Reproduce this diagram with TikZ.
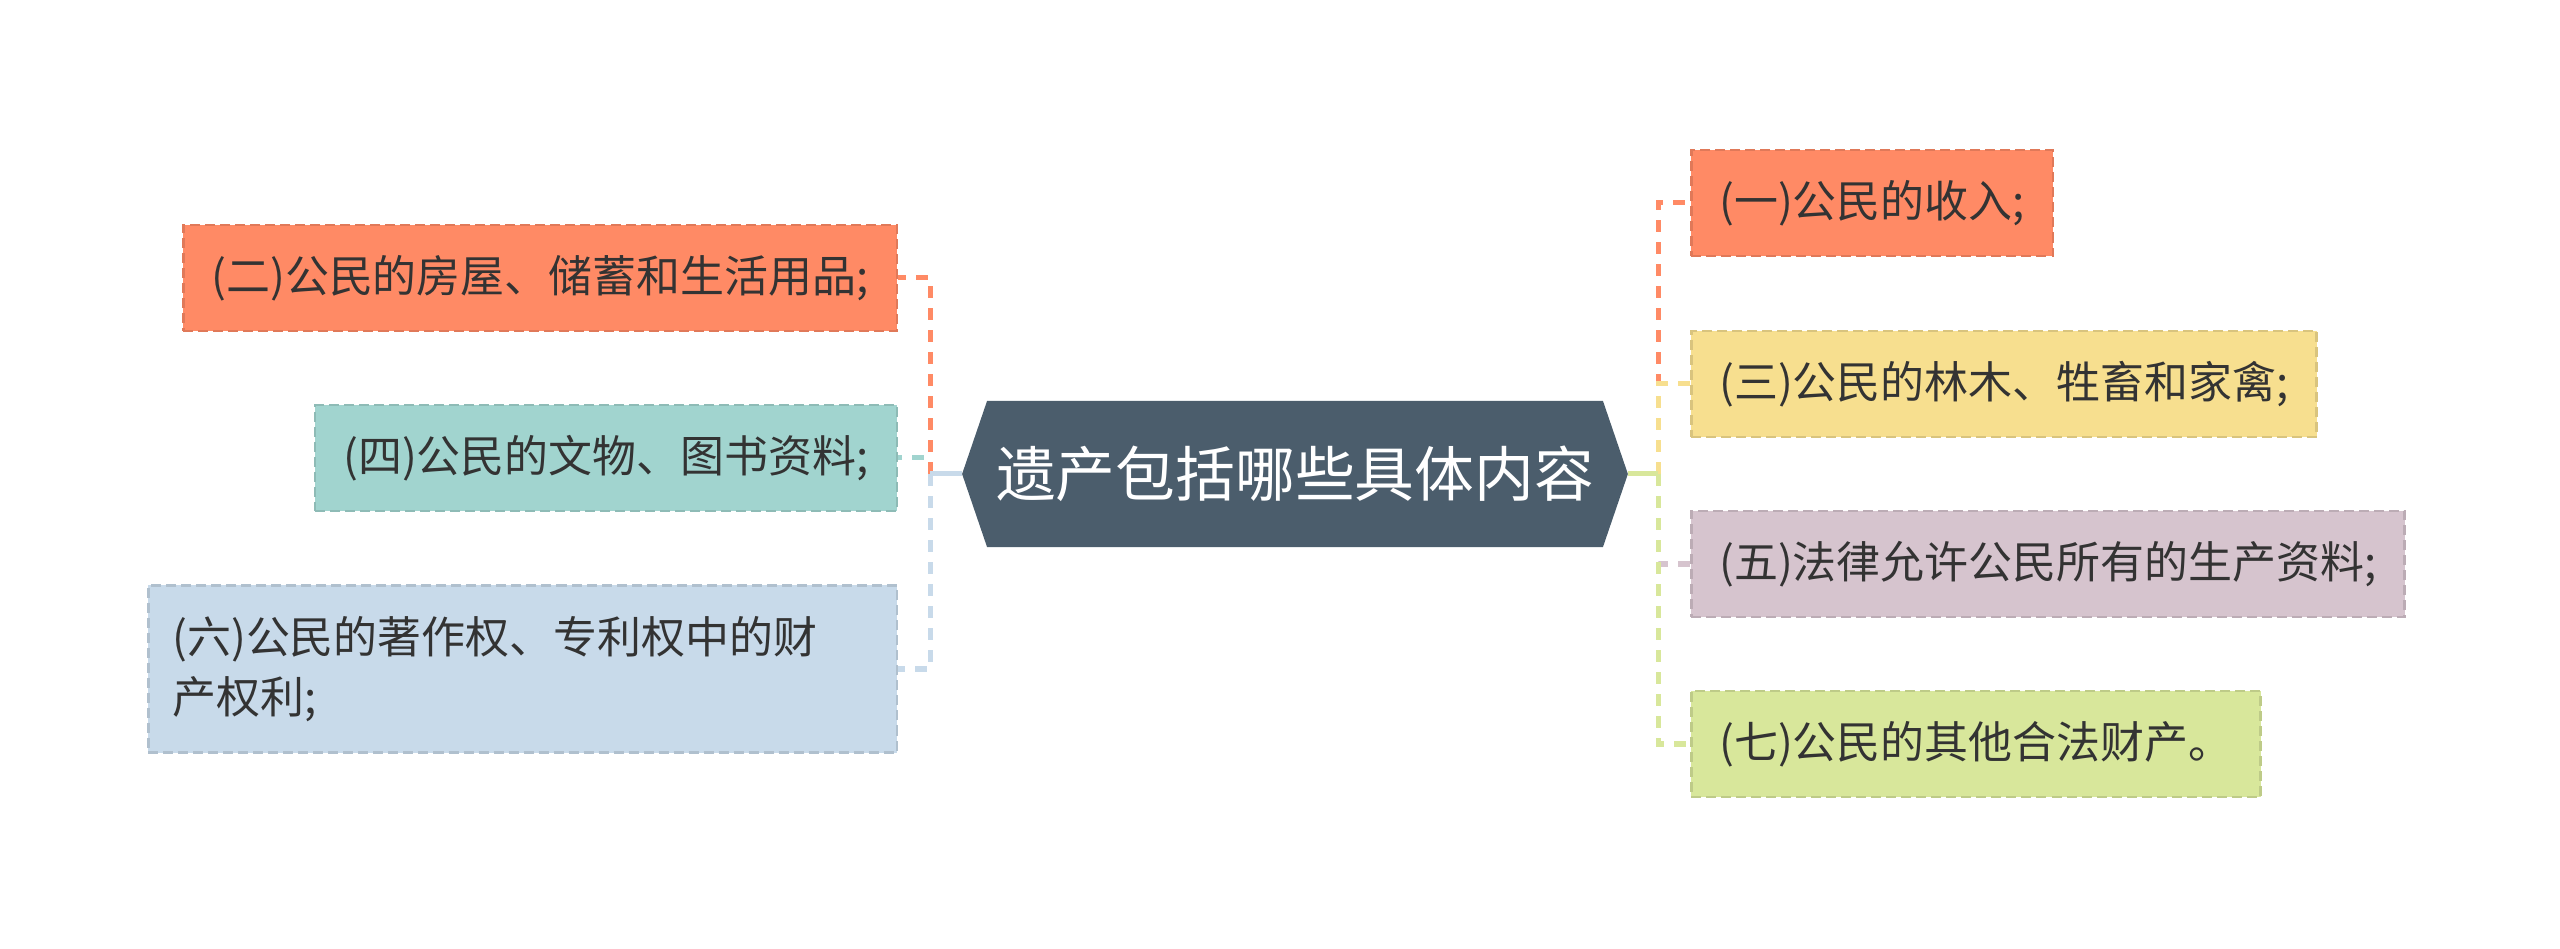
\documentclass[tikz,border=0pt]{standalone}
\usepackage{fontspec}
\setmainfont{Noto Sans CJK SC}
\usetikzlibrary{backgrounds}
\definecolor{hexfill}{HTML}{4B5D6C}
\definecolor{redbox}{HTML}{FF8A65}
\definecolor{yellowbox}{HTML}{F7DF8F}
\definecolor{tealbox}{HTML}{A1D4CF}
\definecolor{purplebox}{HTML}{D6C4CE}
\definecolor{greenbox}{HTML}{D8E79B}
\definecolor{bluebox}{HTML}{C8DAEA}
\definecolor{txt}{HTML}{333333}
\begin{document}
\begin{tikzpicture}[x=0.01cm, y=-0.01cm]
    \tikzstyle{box}=[rectangle, text=txt, font=\fontsize{12.5}{17}\selectfont, minimum height=1.06cm, inner xsep=0.28cm, inner ysep=0pt, line width=0.025cm, dash pattern=on 0.1cm off 0.05cm]
    \tikzstyle{link}=[line width=0.05cm]
    \tikzstyle{dlink}=[link, dash pattern=on 0.12cm off 0.1cm]

    \useasboundingbox (0,0) rectangle (2560,949);

    \node[rectangle, minimum width=6.64cm, minimum height=1.45cm, text=white, font=\fontsize{17}{20}\selectfont] (c) at (1295,474) {遗产包括哪些具体内容};
    \begin{scope}[on background layer]
        \fill[hexfill] (c.west) -- ([xshift=0.25cm]c.north west) -- ([xshift=-0.25cm]c.north east) -- (c.east) -- ([xshift=-0.25cm]c.south east) -- ([xshift=0.25cm]c.south west) -- cycle;
    \end{scope}

    \node[box, fill=redbox, draw=redbox!88!black, anchor=west] (n1) at (1690,203) {(一)公民的收入;};
    \node[box, fill=redbox, draw=redbox!88!black, anchor=east] (n2) at (898,278) {(二)公民的房屋、储蓄和生活用品;};
    \node[box, fill=yellowbox, draw=yellowbox!88!black, anchor=west] (n3) at (1690,384) {(三)公民的林木、牲畜和家禽;};
    \node[box, fill=tealbox, draw=tealbox!88!black, anchor=east] (n4) at (898,458) {(四)公民的文物、图书资料;};
    \node[box, fill=purplebox, draw=purplebox!88!black, anchor=west] (n5) at (1690,564) {(五)法律允许公民所有的生产资料;};
    \node[box, fill=bluebox, draw=bluebox!88!black, anchor=east, text width=7cm, align=left, inner xsep=0.24cm, minimum height=1.67cm] (n6) at (898,669) {(六)公民的著作权、专利权中的财\\产权利;};
    \node[box, fill=greenbox, draw=greenbox!88!black, anchor=west] (n7) at (1690,744) {(七)公民的其他合法财产。};

    \coordinate (l) at (930,474);
    \coordinate (r) at (1658,474);

    \draw[link, redbox] (c.east) -- (r);
    \draw[dlink, redbox] (r) |- (n1.west);
    \draw[link, yellowbox] (c.east) -- (r);
    \draw[dlink, yellowbox] (r) |- (n3.west);
    \draw[link, purplebox] (c.east) -- (r);
    \draw[dlink, purplebox] (r) |- (n5.west);
    \draw[link, greenbox] (c.east) -- (r);
    \draw[dlink, greenbox] (r) |- (n7.west);

    \draw[link, tealbox] (c.west) -- (l);
    \draw[dlink, tealbox] (l) |- (n4.east);
    \draw[link, redbox] (c.west) -- (l);
    \draw[dlink, redbox] (l) |- (n2.east);
    \draw[link, bluebox] (c.west) -- (l);
    \draw[dlink, bluebox] (l) |- (n6.east);
\end{tikzpicture}
\end{document}
